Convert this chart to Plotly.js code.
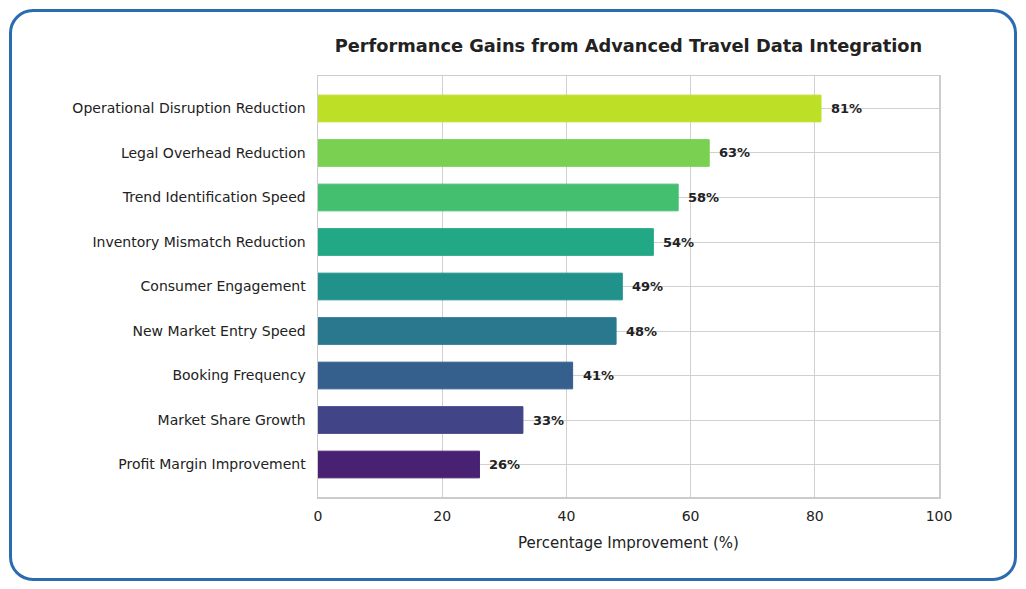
<!DOCTYPE html>
<html>
<head>
<meta charset="utf-8">
<script src="https://cdn.plot.ly/plotly-3.0.1.min.js"></script>
<style>
  html, body { margin: 0; padding: 0; background: #fff; }
  #wrap { position: relative; width: 1026px; height: 589px; }
  #chart { position: absolute; left: 0; top: 0; width: 1026px; height: 589px; }
  #frame { position: absolute; left: 9px; top: 9px; width: 1002px; height: 566px;
           border: 3.5px solid #2b6cb0; border-radius: 24px; pointer-events: none; }
</style>
</head>
<body>
<div id="wrap">
  <div id="chart"></div>
  <div id="frame"></div>
</div>
<script>
const categories = [
  "Profit Margin Improvement",
  "Market Share Growth",
  "Booking Frequency",
  "New Market Entry Speed",
  "Consumer Engagement",
  "Inventory Mismatch Reduction",
  "Trend Identification Speed",
  "Legal Overhead Reduction",
  "Operational Disruption Reduction"
];
const values = [26, 33, 41, 48, 49, 54, 58, 63, 81];
const colors = ["#482173", "#414487", "#355f8d", "#2a788e", "#21918c", "#22a884", "#44bf70", "#7ad151", "#bddf26"];
const labels = values.map(v => v + "%");

const trace = {
  type: "bar",
  orientation: "h",
  x: values,
  y: categories,
  width: 0.6,
  marker: { color: colors, line: { color: colors, width: 1 } },
  hoverinfo: "x+y"
};

const annotations = values.map((v, i) => ({
  x: v, y: categories[i], xref: "x", yref: "y",
  text: labels[i], showarrow: false, xanchor: "left", xshift: 8,
  font: { family: "DejaVu Sans", size: 13, color: "#222", weight: "bold" }
}));

const layout = {
  width: 1026, height: 589,
  margin: { l: 318, r: 87, t: 76, b: 92 },
  paper_bgcolor: "rgba(0,0,0,0)",
  plot_bgcolor: "#fff",
  font: { family: "DejaVu Sans", color: "#222" },
  title: {
    text: "<b>Performance Gains from Advanced Travel Data Integration</b>",
    font: { family: "DejaVu Sans", size: 17.8, color: "#222" },
    x: 0.6125, xanchor: "center", y: 0.923, yanchor: "middle"
  },
  xaxis: {
    range: [0, 100], tickvals: [0, 20, 40, 60, 80, 100],
    showgrid: true, gridcolor: "#d0d0d0", gridwidth: 1,
    zeroline: false, showline: true, linecolor: "#cccccc", linewidth: 1.5, mirror: true,
    ticks: "outside", ticklen: 6, tickcolor: "rgba(0,0,0,0)",
    tickfont: { family: "DejaVu Sans", size: 14, color: "#222" },
    title: { text: "Percentage Improvement (%)", font: { family: "DejaVu Sans", size: 15, color: "#222" }, standoff: 14 }
  },
  yaxis: {
    type: "category", categoryorder: "array", categoryarray: categories,
    range: [-0.73, 8.73],
    showgrid: true, gridcolor: "#d0d0d0", gridwidth: 1,
    zeroline: false, showline: true, linecolor: "#cccccc", linewidth: 1.5, mirror: true,
    ticks: "outside", ticklen: 8, tickcolor: "rgba(0,0,0,0)",
    tickfont: { family: "DejaVu Sans", size: 14, color: "#222" }
  },
  annotations: annotations,
  showlegend: false
};

Plotly.newPlot("chart", [trace], layout, { displayModeBar: false, staticPlot: true });
</script>
</body>
</html>
